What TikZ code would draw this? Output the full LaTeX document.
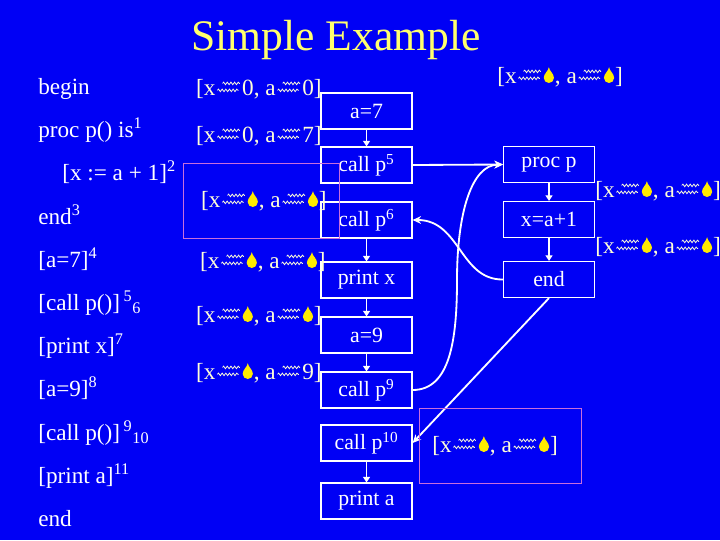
\documentclass[tikz,border=0pt]{standalone}
\usepackage{fontspec}
\setmainfont{Liberation Serif}
\usepackage{tikz}
\usetikzlibrary{positioning, arrows.meta, decorations.pathmorphing}

\definecolor{slideblue}{RGB}{0,0,245}
\definecolor{titleyellow}{RGB}{255,255,110}
\definecolor{factcream}{RGB}{255,255,215}
\definecolor{dropyellow}{RGB}{255,235,0}
\definecolor{boxpurple}{RGB}{200,110,220}

% glyphs of the data-flow facts
\newcommand{\wavy}{\tikz[baseline=0pt, line width=0.55pt, decoration={snake, amplitude=0.9pt, segment length=2.6pt}]{%
    \path (0,0) (1.15em,0);
    \draw[decorate] (0.08em,0.2em) -- (1.0em,0.2em);
    \draw[decorate] (0.3em,0.5em) -- (1.05em,0.5em);}}
\newcommand{\botdrop}{\tikz[baseline=0pt]{%
    \path (0,0) (0.5em,0);
    \fill[dropyellow] (0.24em,0.68em) .. controls (0.26em,0.52em) and (0.46em,0.4em) .. (0.46em,0.22em)
        arc (0:-180:0.22em) .. controls (0.02em,0.4em) and (0.22em,0.52em) .. (0.24em,0.68em);}}
\newcommand{\fact}[2]{[x\wavy#1, a\wavy#2]}

\begin{document}
\begin{tikzpicture}[
    x=0.025cm, y=-0.025cm,
    titletext/.style={text=titleyellow, font=\fontsize{31}{36}\selectfont, inner sep=0pt},
    progline/.style={text=white, font=\fontsize{16.5}{20}\selectfont, anchor=base west, inner sep=0pt},
    facttext/.style={text=factcream, font=\fontsize{16.5}{20}\selectfont, inner sep=0pt},
    flowbox/.style={rectangle, draw=white, line width=0.8pt, text=white, minimum width=2.275cm, minimum height=0.9cm, font=\fontsize{15.5}{19}\selectfont, inner sep=0pt},
    flow/.style={-{Triangle[length=4pt, width=5pt]}, white, line width=0.9pt},
    callarr/.style={-{Stealth[length=6pt, width=5.5pt]}, white, line width=1.3pt},
    purplebox/.style={draw=boxpurple, line width=0.7pt},
]

\fill[slideblue] (0,0) rectangle (720,540);
\useasboundingbox (0,0) rectangle (720,540);

\node[titletext] (title) at (336,40) {Simple Example};

% the program
\node[progline] (l0) at (38,94) {begin};
\node[progline] (l1) at (38,137) {proc p() is\textsuperscript{1}};
\node[progline] (l2) at (62,180) {[x := a + 1]\textsuperscript{2}};
\node[progline] (l3) at (38,224) {end\textsuperscript{3}};
\node[progline] (l4) at (38,267) {[a=7]\textsuperscript{4}};
\node[progline] (l5) at (38,310) {[call p()]\hspace{0.15em}\textsuperscript{5}\textsubscript{6}};
\node[progline] (l6) at (38,353) {[print x]\textsuperscript{7}};
\node[progline] (l7) at (38,396) {[a=9]\textsuperscript{8}};
\node[progline] (l8) at (38,440) {[call p()]\hspace{0.15em}\textsuperscript{9}\textsubscript{10}};
\node[progline] (l9) at (38,483) {[print a]\textsuperscript{11}};
\node[progline] (l10) at (38,526) {end};

% main flow graph
\node[flowbox] (a7) at (366.5,111) {a=7};
\node[flowbox] (p5) at (366.5,165) {call p\textsuperscript{5}};
\node[flowbox] (p6) at (366.5,220) {call p\textsuperscript{6}};
\node[flowbox] (px) at (366.5,280) {print x};
\node[flowbox] (a9) at (366.5,335) {a=9};
\node[flowbox] (p9) at (366.5,390) {call p\textsuperscript{9}};
\node[flowbox] (p10) at (366.5,443) {call p\textsuperscript{10}};
\node[flowbox] (pa) at (366.5,501) {print a};

% procedure p
\node[flowbox] (proc) at (549,164.5) {proc p};
\node[flowbox] (asg) at (549,219.5) {x=a+1};
\node[flowbox] (pend) at (549,279.5) {end};

\draw[flow] (a7) -- (p5);
\draw[flow] (p6) -- (px);
\draw[flow] (px) -- (a9);
\draw[flow] (a9) -- (p9);
\draw[flow] (p10) -- (pa);
\draw[flow] (proc) -- (asg);
\draw[flow] (asg) -- (pend);

\draw[callarr] (p5.east) -- (proc.west);
\draw[callarr] (pend.west) .. controls (460,280) and (460,220) .. (p6.east);
\draw[callarr] (p9.east) .. controls (450,390) and (457,340) .. (457,280)
    .. controls (457,212) and (472,165) .. (proc.west);
\draw[callarr] (pend.south) -- (p10.east);

% analysis results
\draw[purplebox] (183,163) rectangle (339,238);
\draw[purplebox] (419,408) rectangle (581,483);

\node[facttext, anchor=base east] (f1) at (322,95) {\fact{0}{0}};
\node[facttext, anchor=base east] (f2) at (322,142) {\fact{0}{7}};
\node[facttext, anchor=base east] (f3) at (327,207) {\fact{\botdrop}{\botdrop}};
\node[facttext, anchor=base east] (f4) at (326,268) {\fact{\botdrop}{\botdrop}};
\node[facttext, anchor=base east] (f5) at (322,322) {\fact{\botdrop}{\botdrop}};
\node[facttext, anchor=base east] (f6) at (322,379) {\fact{\botdrop}{9}};
\node[facttext, anchor=base west] (f7) at (497,83) {\fact{\botdrop}{\botdrop}};
\node[facttext, anchor=base west] (f8) at (595,197) {\fact{\botdrop}{\botdrop}};
\node[facttext, anchor=base west] (f9) at (595,253) {\fact{\botdrop}{\botdrop}};
\node[facttext, anchor=base west] (f10) at (432,452) {\fact{\botdrop}{\botdrop}};

\end{tikzpicture}
\end{document}
